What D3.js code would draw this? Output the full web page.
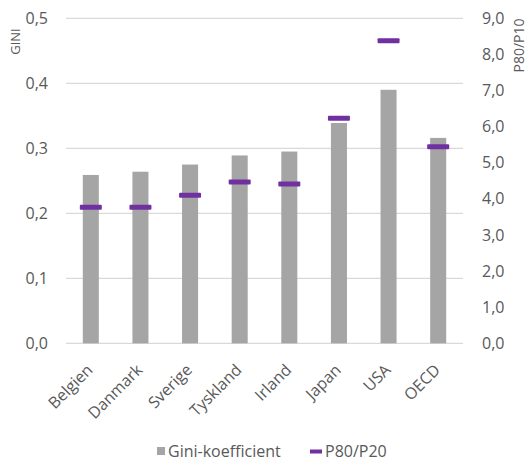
<!DOCTYPE html>
<html><head><meta charset="utf-8">
<script src="https://cdn.jsdelivr.net/npm/d3@7"></script>
<style>body{margin:0;background:#fff}svg{display:block;font-family:"Open Sans",sans-serif}</style>
</head><body><svg id="c" width="529" height="461"></svg>
<script>
const categories = ["Belgien","Danmark","Sverige","Tyskland","Irland","Japan","USA","OECD"];
const gini = [0.259,0.264,0.275,0.289,0.295,0.339,0.390,0.316];
const p80p20 = [3.77,3.77,4.10,4.47,4.41,6.23,8.38,5.44];
const leftTicks = [0,0.1,0.2,0.3,0.4,0.5];
const rightTicks = [0,1,2,3,4,5,6,7,8,9];

const svg = d3.select("#c");
const x0 = 66, x1 = 463, yTop = 18.3, yBot = 343.3;
const x = d3.scaleBand().domain(categories).range([x0,x1]).paddingInner(0.677).paddingOuter(0.3385);
const yL = d3.scaleLinear().domain([0,0.5]).range([yBot,yTop]);
const yR = d3.scaleLinear().domain([0,9]).range([yBot,yTop]);
const txt = "#595959";

// gridlines
svg.append("g").selectAll("line").data(leftTicks).join("line")
  .attr("x1",x0).attr("x2",x1).attr("y1",d=>yL(d)).attr("y2",d=>yL(d))
  .attr("stroke","#D9D9D9").attr("stroke-width",1.3);

// left axis
const fmt1 = d=>d3.format(".1f")(d).replace(".",",");
const gl = svg.append("g").attr("transform",`translate(48,0)`)
  .call(d3.axisLeft(yL).tickValues(leftTicks).tickSize(0).tickPadding(0).tickFormat(fmt1));
gl.select(".domain").remove();
gl.selectAll("text").attr("fill",txt).style("font-size","16px").style("font-family","'Open Sans',sans-serif");

const gr = svg.append("g").attr("transform",`translate(482,0)`)
  .call(d3.axisRight(yR).tickValues(rightTicks).tickSize(0).tickPadding(0).tickFormat(fmt1));
gr.select(".domain").remove();
gr.selectAll("text").attr("fill",txt).style("font-size","16px").style("font-family","'Open Sans',sans-serif");

// axis titles
svg.append("text").attr("transform","translate(20,41.5) rotate(-90)").attr("text-anchor","middle")
  .attr("fill",txt).style("font-size","13px").text("GINI");
svg.append("text").attr("transform","translate(523.5,45.5) rotate(-90)").attr("text-anchor","middle")
  .attr("fill",txt).style("font-size","14px").text("P80/P10");

// bars
svg.append("g").selectAll("rect").data(categories).join("rect")
  .attr("x",d=>x(d)).attr("width",x.bandwidth())
  .attr("y",(d,i)=>yL(gini[i])).attr("height",(d,i)=>yBot-yL(gini[i]))
  .attr("fill","#A5A5A5");

// markers
const mw = 22, mh = 5;
svg.append("g").selectAll("rect").data(categories).join("rect")
  .attr("x",d=>x(d)+x.bandwidth()/2-mw/2).attr("width",mw)
  .attr("y",(d,i)=>yR(p80p20[i])-mh/2).attr("height",mh).attr("rx",1)
  .attr("fill","#7030A0");

// x labels
svg.append("g").selectAll("text").data(categories).join("text")
  .attr("transform",d=>`translate(${x(d)+x.bandwidth()/2+3},371) rotate(-45)`)
  .attr("text-anchor","end").attr("fill",txt).style("font-size","16px").text(d=>d);

// legend
const lg = svg.append("g");
lg.append("rect").attr("x",157).attr("y",447).attr("width",8).attr("height",8).attr("fill","#A5A5A5");
lg.append("text").attr("x",168).attr("y",456.5).attr("fill",txt).style("font-size","16px").text("Gini-koefficient");
lg.append("rect").attr("x",310).attr("y",449.5).attr("width",12).attr("height",4).attr("fill","#7030A0");
lg.append("text").attr("x",325).attr("y",456.5).attr("fill",txt).style("font-size","16px").text("P80/P20");
</script></body></html>
